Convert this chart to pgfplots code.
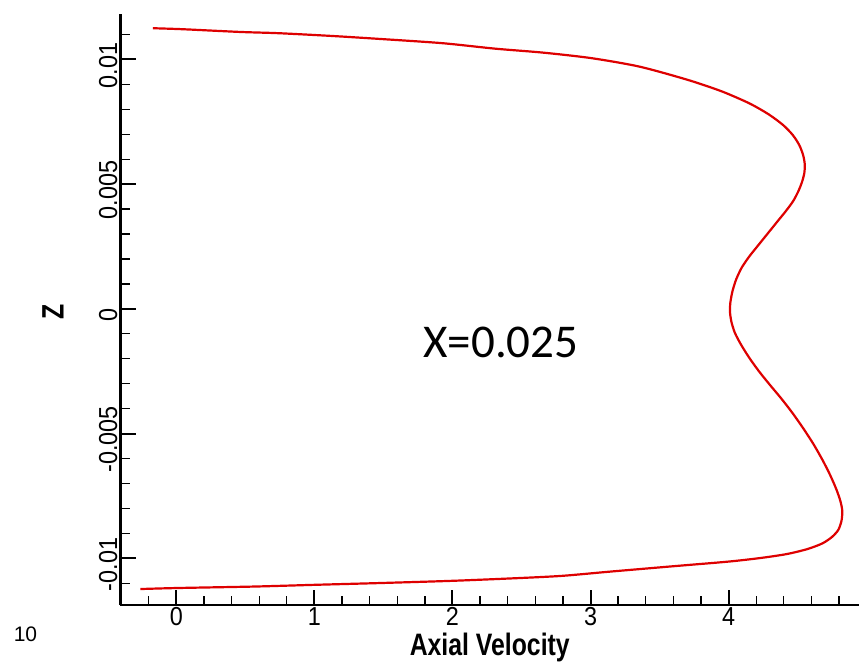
\documentclass[border=0pt]{standalone}
\usepackage{fontspec}
\usepackage{pgfplots}
\pgfplotsset{compat=1.18}
\newfontfamily\tickfont[FakeStretch=0.9]{Liberation Sans}
\newfontfamily\labfont[FakeStretch=0.8]{Liberation Sans}
\newfontfamily\annfont{Carlito}
\newfontfamily\plainfont{Liberation Sans}
\definecolor{curvered}{RGB}{222,0,0}
\begin{document}
\begin{tikzpicture}[x=1pt,y=1pt]
\useasboundingbox (0,0) rectangle (863,662);
\begin{axis}[
  at={(120.5pt,57pt)}, anchor=south west,
  scale only axis, width=738.5pt, height=591pt,
  xmin=-0.405, xmax=4.945, ymin=-0.01187, ymax=0.01182,
  scaled y ticks=false, scaled x ticks=false,
  axis x line*=bottom, axis y line*=left,
  axis line style={line width=2.5pt, black},
  tick align=inside,
  major tick length=15pt, minor tick length=9pt,
  major tick style={black, line width=2pt},
  minor tick style={black, line width=1.3pt},
  xtick={0,1,2,3,4}, xticklabels={0,1,2,3,4},
  minor xtick={-0.2,0.2,0.4,0.6,0.8,1.2,1.4,1.6,1.8,2.2,2.4,2.6,2.8,3.2,3.4,3.6,3.8,4.2,4.4,4.6,4.8},
  ytick={-0.01,-0.005,0,0.005,0.01}, yticklabels={-0.01,-0.005,0,0.005,0.01},
  minor ytick={-0.011,-0.009,-0.008,-0.007,-0.006,-0.004,-0.003,-0.002,-0.001,0.001,0.002,0.003,0.004,0.006,0.007,0.008,0.009,0.011},
  tick label style={font=\tickfont\fontsize{26}{26}\selectfont},
  xticklabel style={inner sep=2pt},
  yticklabel style={rotate=90, anchor=south, inner sep=3pt, xshift=-6pt},
  xlabel={Axial Velocity},
  xlabel style={font=\labfont\bfseries\fontsize{31}{31}\selectfont, inner sep=0pt, at={(axis description cs:0.5,-0.0725)}, anchor=center},
  ylabel={Z},
  ylabel style={font=\labfont\bfseries\fontsize{31}{31}\selectfont, at={(axis description cs:-0.0914,0.4966)}, anchor=center},
]
\addplot[curvered, line width=2.2pt, smooth, tension=0.45] coordinates {
(-0.171, 0.01125) (0.045, 0.01121) (0.463, 0.01110) (0.742, 0.01105)
(1.125, 0.01094) (1.474, 0.01082) (1.927, 0.01065) (2.310, 0.01043)
(2.659, 0.01027) (3.007, 0.01005) (3.355, 0.00971) (3.704, 0.00918)
(3.950, 0.00872) (4.150, 0.00824) (4.290, 0.00780) (4.395, 0.00737)
(4.465, 0.00697) (4.512, 0.00657) (4.540, 0.00617) (4.552, 0.00580)
(4.549, 0.00545) (4.533, 0.00510) (4.506, 0.00472) (4.468, 0.00432)
(4.415, 0.00392) (4.352, 0.00349) (4.285, 0.00303) (4.215, 0.00255)
(4.150, 0.00210) (4.095, 0.00165) (4.055, 0.00118) (4.028, 0.00070)
(4.013, 0.00025) (4.010, -0.00010) (4.020, -0.00050) (4.045, -0.00095)
(4.090, -0.00143) (4.150, -0.00196) (4.220, -0.00250) (4.300, -0.00305)
(4.380, -0.00358) (4.460, -0.00415) (4.540, -0.00478) (4.615, -0.00542)
(4.680, -0.00605) (4.735, -0.00665) (4.780, -0.00722) (4.810, -0.00770)
(4.824, -0.00810) (4.818, -0.00850) (4.795, -0.00886) (4.750, -0.00914)
(4.680, -0.00940) (4.570, -0.00963) (4.420, -0.00983) (4.226, -0.00999)
(4.000, -0.01013) (3.634, -0.01030) (3.146, -0.01053) (2.798, -0.01070)
(2.484, -0.01079) (2.003, -0.01090) (1.474, -0.01099) (1.010, -0.01106)
(0.568, -0.01113) (0.000, -0.01119) (-0.261, -0.01123)
};
\end{axis}
\node[font=\annfont\fontsize{47}{47}\selectfont, inner sep=0pt, anchor=center] at (501,320) {X=0.025};
\node[font=\plainfont\fontsize{21}{21}\selectfont, inner sep=0pt, anchor=center] at (25.5,28) {10};
\end{tikzpicture}
\end{document}
